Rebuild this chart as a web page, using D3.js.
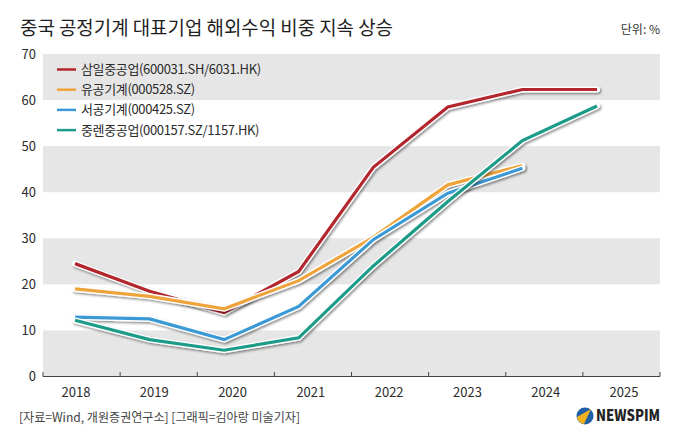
<!DOCTYPE html>
<html>
<head>
<meta charset="utf-8">
<script src="https://cdn.jsdelivr.net/npm/d3@7"></script>
<style>
  body { margin: 0; background: #fff; }
  text { font-family: "Noto Sans CJK KR", "Noto Sans", sans-serif; }
</style>
</head>
<body>
<div id="container"></div>
<script>
/* CONSTANTS AND GLOBALS */
const width = 680,
  height = 442,
  margin = { top: 54, bottom: 65, left: 43, right: 20 };

// DATA (%)
const years = ["2018", "2019", "2020", "2021", "2022", "2023", "2024", "2025"];
const seriesNames = [
  "삼일중공업(600031.SH/6031.HK)",
  "유공기계(000528.SZ)",
  "서공기계(000425.SZ)",
  "중렌중공업(000157.SZ/1157.HK)"
];
const samil = [24.5, 18.5, 13.9, 22.8, 45.4, 58.5, 62.3, 62.3];
const yugong = [19.0, 17.4, 14.7, 20.8, 30.2, 41.6, 45.8, null];
const xugong = [12.9, 12.5, 8.0, 15.2, 29.7, 39.8, 45.2, null];
const zoomlion = [12.2, 8.0, 5.7, 8.4, 24.0, 38.0, 51.2, 58.7];
const yTicks = [0, 10, 20, 30, 40, 50, 60, 70];
const colors = ["#b3282d", "#eea43a", "#3a99d5", "#1b9b88"];

const allSeries = [samil, yugong, xugong, zoomlion].map((vals, i) => ({
  name: seriesNames[i],
  color: colors[i],
  values: vals.map((v, j) => ({ year: years[j], value: v }))
}));

// SCALES
const y = d3.scaleLinear()
  .domain([0, 70])
  .range([height - margin.bottom - 0.5, margin.top]);

// band scale gives the tick marks along the axis
const xBand = d3.scaleBand()
  .domain(years)
  .range([margin.left, width - margin.right])
  .paddingInner(0).paddingOuter(0);

// labels and points sit a bit left of the band centres in the original
const xLabel = d3.scalePoint()
  .domain(years)
  .range([76, 624]);

const xData = d3.scalePoint()
  .domain(years)
  .range([75, 597]);

// SVG
const svg = d3.select("#container")
  .append("svg")
  .attr("width", width)
  .attr("height", height);

const defs = svg.append("defs");
const shadow = defs.append("filter")
  .attr("id", "shadow")
  .attr("x", "-10%").attr("y", "-10%")
  .attr("width", "120%").attr("height", "120%");
shadow.append("feDropShadow")
  .attr("dx", 1.3).attr("dy", 1.6)
  .attr("stdDeviation", 1.1)
  .attr("flood-color", "#000")
  .attr("flood-opacity", 0.45);

// GREY BANDS
const bands = d3.range(0, 70, 20);
svg.selectAll(".band")
  .data(bands)
  .join("rect")
  .attr("class", "band")
  .attr("x", margin.left)
  .attr("width", width - margin.right - margin.left)
  .attr("y", d => y(d + 10))
  .attr("height", d => y(d) - y(d + 10))
  .attr("fill", "#e6e6e6");

// Y LABELS
svg.selectAll(".ylab")
  .data(yTicks)
  .join("text")
  .attr("class", "ylab")
  .attr("x", 36)
  .attr("y", d => y(d))
  .attr("dy", "0.35em")
  .attr("text-anchor", "end")
  .attr("font-size", 13)
  .attr("fill", "#2b2b2b")
  .text(d => d);

// X AXIS
const axisY = y(0);
svg.append("line")
  .attr("x1", margin.left).attr("x2", width - margin.right)
  .attr("y1", axisY).attr("y2", axisY)
  .attr("stroke", "#444").attr("stroke-width", 1.2);

const tickPos = years.map(d => xBand(d)).concat([xBand.range()[1]]);
svg.selectAll(".xtick")
  .data(tickPos)
  .join("line")
  .attr("class", "xtick")
  .attr("x1", d => d).attr("x2", d => d)
  .attr("y1", axisY - 4.5).attr("y2", axisY)
  .attr("stroke", "#444").attr("stroke-width", 1);

svg.selectAll(".xlab")
  .data(years)
  .join("text")
  .attr("class", "xlab")
  .attr("x", d => xLabel(d))
  .attr("y", axisY + 16)
  .attr("dy", "0.35em")
  .attr("text-anchor", "middle")
  .attr("font-size", 13)
  .attr("fill", "#2b2b2b")
  .text(d => d);

// LINES
const lineGen = d3.line()
  .defined(d => d.value != null)
  .x(d => xData(d.year))
  .y(d => y(d.value));

const lineG = svg.selectAll(".series")
  .data(allSeries)
  .join("g")
  .attr("class", "series")
  .attr("filter", "url(#shadow)");

lineG.append("path")
  .attr("d", d => lineGen(d.values))
  .attr("fill", "none")
  .attr("stroke", "#fff")
  .attr("stroke-width", 6)
  .attr("stroke-linejoin", "miter")
  .attr("stroke-linecap", "round");

lineG.append("path")
  .attr("d", d => lineGen(d.values))
  .attr("fill", "none")
  .attr("stroke", d => d.color)
  .attr("stroke-width", 3.2)
  .attr("stroke-linejoin", "miter")
  .attr("stroke-linecap", "butt");

// LEGEND
const legend = svg.selectAll(".legend")
  .data(allSeries)
  .join("g")
  .attr("class", "legend")
  .attr("transform", (d, i) => `translate(57, ${69.5 + i * 20.2})`);

legend.append("line")
  .attr("x1", 0).attr("x2", 19)
  .attr("stroke", d => d.color)
  .attr("stroke-width", 2.5);

legend.append("text")
  .attr("x", 24)
  .attr("dy", "0.35em")
  .attr("font-size", 13)
  .attr("letter-spacing", -0.35)
  .attr("fill", "#2b2b2b")
  .text(d => d.name);

// TITLE / NOTES
svg.append("text")
  .attr("x", 20).attr("y", 35)
  .attr("font-size", 19.5)
  .attr("fill", "#1e1e1e")
  .attr("textLength", 373)
  .attr("lengthAdjust", "spacingAndGlyphs")
  .text("중국 공정기계 대표기업 해외수익 비중 지속 상승");

svg.append("text")
  .attr("x", 660).attr("y", 34)
  .attr("text-anchor", "end")
  .attr("font-size", 12)
  .attr("fill", "#333")
  .text("단위: %");

svg.append("text")
  .attr("x", 19).attr("y", 418)
  .attr("dy", "0.35em")
  .attr("font-size", 12.5)
  .attr("fill", "#444")
  .attr("textLength", 281)
  .attr("lengthAdjust", "spacingAndGlyphs")
  .text("[자료=Wind, 개원증권연구소] [그래픽=김아랑 미술기자]");

// NEWSPIM LOGO
const logo = svg.append("g").attr("transform", "translate(585, 416)");
logo.append("circle").attr("r", 8.5).attr("fill", "#1f5fa8");
logo.append("path")
  .attr("d", "M-8,1 L6,-7 L-1,8 A8.5,8.5 0 0 1 -8,1 Z")
  .attr("fill", "#f2b21b");
logo.append("text")
  .attr("x", 11).attr("dy", "0.36em")
  .attr("font-family", "Roboto, sans-serif")
  .attr("font-weight", 900)
  .attr("font-size", 15)
  .attr("fill", "#222")
  .attr("textLength", 64)
  .attr("lengthAdjust", "spacingAndGlyphs")
  .text("NEWSPIM");
</script>
</body>
</html>
